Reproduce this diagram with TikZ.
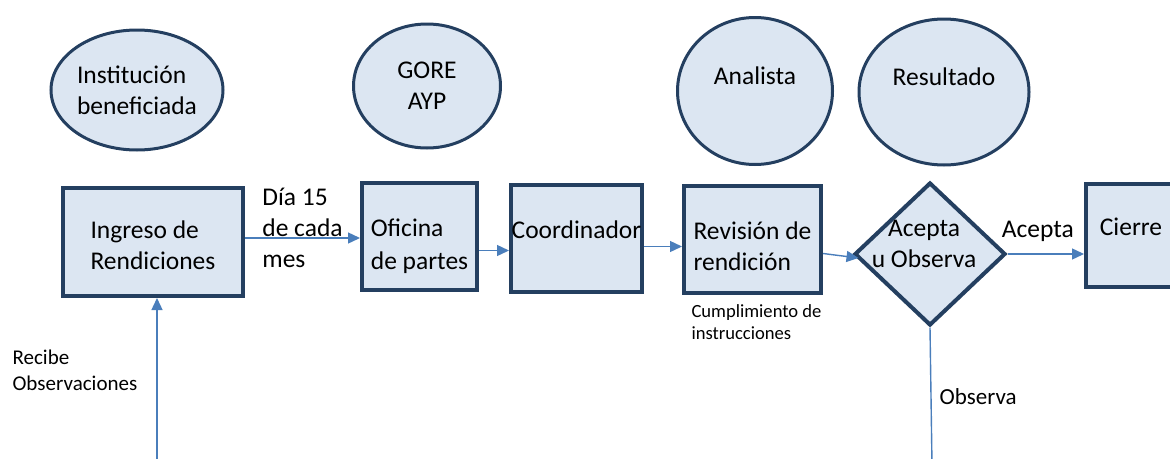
\documentclass[tikz,border=0pt]{standalone}
\usepackage{fontspec}
\setmainfont{Carlito}
\usetikzlibrary{arrows.meta,positioning,shapes.geometric}
\definecolor{relleno}{HTML}{DCE6F2}
\definecolor{borde}{HTML}{243F60}
\definecolor{azulflecha}{HTML}{4A7EBB}
\newcommand{\letragrande}{\fontsize{25.5}{31}\selectfont}
\newcommand{\letrachica}{\fontsize{18.6}{22}\selectfont}
\newcommand{\puntal}[1][24]{\rule{0pt}{#1pt}}

\begin{document}
\begin{tikzpicture}[x=1pt,y=-1pt,
	caja/.style={rectangle,draw=borde,line width=4pt,fill=relleno,inner sep=0pt,align=left,font=\letragrande},
	actor/.style={ellipse,draw=borde,line width=3pt,fill=relleno,inner sep=0pt,align=left,font=\letragrande},
	linea/.style={draw=azulflecha,line width=1.4pt},
	flecha/.style={linea,-{Triangle[length=12pt,width=11pt]}},
	texto/.style={inner sep=0pt,align=left,text=black,font=\letragrande}]
	\useasboundingbox (0,0) rectangle (1170,458);
	\clip (0,0) rectangle (1170,458);
	% actores
	\node[actor,minimum width=172pt,minimum height=120pt] (inst) at (137,90) {Institución\\beneficiada};
	\node[actor,align=center,minimum width=147pt,minimum height=124pt] (gore) at (427,86) {GORE\\AYP};
	\node[actor,minimum width=155pt,minimum height=147pt] (analista) at (755,91) {Analista\\~};
	\node[actor,minimum width=170pt,minimum height=146pt] (resultado) at (944,92) {Resultado\\~};
	% etapas
	\node[caja,minimum width=180pt,minimum height=108pt] (ingreso) at (153,242) {\puntal Ingreso de\\\puntal Rendiciones};
	\node[caja,minimum width=115pt,minimum height=107pt] (oficina) at (419.5,236.5) {\puntal[38]Oficina\\[2pt]\puntal de partes};
	\node[caja,minimum width=131pt,minimum height=107pt] (coord) at (576.5,238.5) {\puntal[30]Coordinador\\\puntal};
	\node[caja,minimum width=137pt,minimum height=107pt] (revision) at (752.5,239.5) {\puntal[32]Revisión de\\\puntal rendición};
	\node[diamond,draw=borde,line width=4pt,fill=relleno,inner sep=0pt,
		minimum width=151pt,minimum height=143pt,
		label={[texto,align=center,yshift=10pt,xshift=-6pt,name=decisiontxt]center:{Acepta\\u Observa}}] (decision) at (930,254) {};
	\node[caja,minimum width=90pt,minimum height=103pt] (cierre) at (1131,235.5) {\puntal[30]Cierre\\\puntal};
	\node[texto,font=\letrachica,below=9pt of revision.south,xshift=4pt] (cumple) {Cumplimiento de\\instrucciones};
	% conectores
	\coordinate (recibe) at (157,465);
	\coordinate (obsfin) at (932,465);
	\draw[flecha] ([yshift=4pt]ingreso.east) -- ([yshift=4pt]ingreso.east -| oficina.west)
		node[texto,midway,yshift=10pt] (dia) {Día 15\\de cada\\mes};
	\draw[flecha] ([yshift=-14pt]oficina.east) -- ([yshift=-14pt]oficina.east -| coord.west);
	\draw[flecha] ([yshift=-8pt]coord.east) -- ([yshift=-8pt]coord.east -| revision.west);
	\draw[flecha] ([yshift=-14pt]revision.east) -- ([xshift=6pt,yshift=-4pt]decision.west);
	\draw[flecha] (decision.east) -- (decision.east -| cierre.west)
		node[texto,midway,above=12pt,xshift=-8pt] (acepta) {Acepta};
	\draw[linea] (decision.south) -- (obsfin)
		node[texto,pos=0.5,right=8pt,font=\fontsize{23}{29}\selectfont] (observa) {Observa};
	\draw[flecha] (recibe) -- (recibe |- ingreso.south)
		node[texto,pos=0.57,left=19pt,font=\fontsize{21}{26}\selectfont] (recibetxt) {Recibe\\Observaciones};
\end{tikzpicture}
\end{document}
